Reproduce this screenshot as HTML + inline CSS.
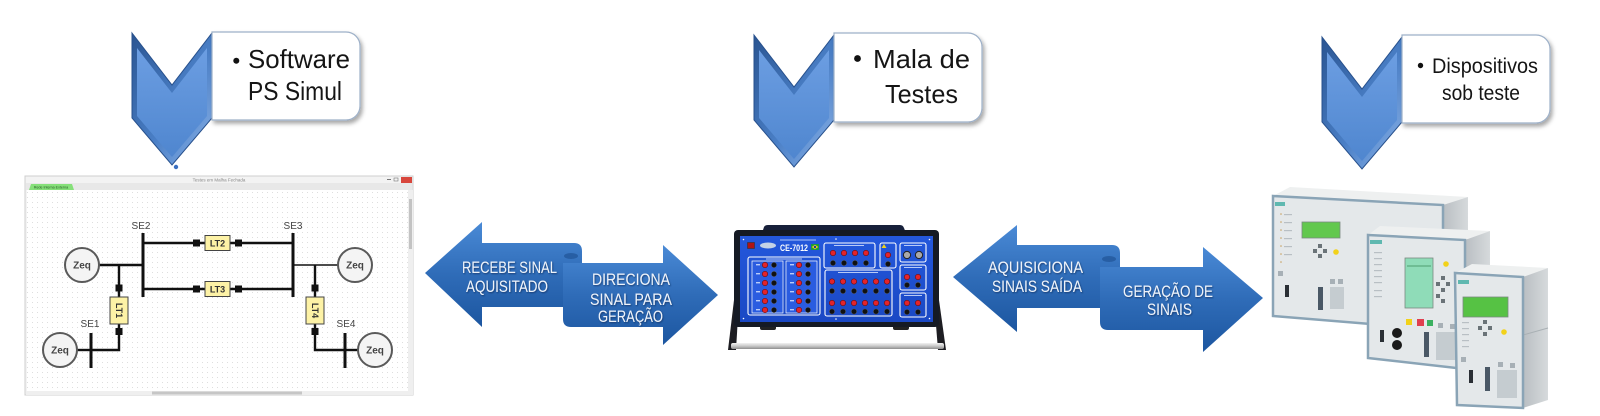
<!DOCTYPE html>
<html><head><meta charset="utf-8">
<style>
html,body{margin:0;padding:0;background:#fff;width:1600px;height:416px;overflow:hidden;}
svg{display:block;}
text{font-family:"Liberation Sans",sans-serif;}
</style></head><body>
<svg width="1600" height="416" viewBox="0 0 1600 416" xmlns="http://www.w3.org/2000/svg">
<defs>
 <linearGradient id="chevOut" x1="0" y1="0" x2="1" y2="1">
  <stop offset="0" stop-color="#2a5592"/>
  <stop offset="0.55" stop-color="#4a7fc6"/>
  <stop offset="1" stop-color="#8fb6ea"/>
 </linearGradient>
 <linearGradient id="chevIn" x1="0" y1="0" x2="0" y2="1">
  <stop offset="0" stop-color="#6c9ee2"/>
  <stop offset="1" stop-color="#4f86cf"/>
 </linearGradient>
 <linearGradient id="arr" x1="0" y1="0" x2="0" y2="1">
  <stop offset="0" stop-color="#4a8ad6"/>
  <stop offset="0.5" stop-color="#2f6cb8"/>
  <stop offset="1" stop-color="#1c56a0"/>
 </linearGradient>
 <linearGradient id="bar" x1="0" y1="0" x2="0" y2="1">
  <stop offset="0" stop-color="#f2f2f2"/>
  <stop offset="0.5" stop-color="#c9c9c9"/>
  <stop offset="1" stop-color="#8e8e8e"/>
 </linearGradient>
 <linearGradient id="panel" x1="0" y1="0" x2="0" y2="1">
  <stop offset="0" stop-color="#2458dc"/>
  <stop offset="1" stop-color="#1a48c4"/>
 </linearGradient>
 <linearGradient id="side" x1="0" y1="0" x2="1" y2="0">
  <stop offset="0" stop-color="#b9bec2"/>
  <stop offset="1" stop-color="#d6dadc"/>
 </linearGradient>
 <filter id="sh" x="-10%" y="-10%" width="130%" height="140%">
  <feDropShadow dx="2" dy="3" stdDeviation="2" flood-color="#000" flood-opacity="0.35"/>
 </filter>
 <filter id="tsh" x="-10%" y="-30%" width="130%" height="160%">
  <feDropShadow dx="0.8" dy="1" stdDeviation="0.8" flood-color="#0b2a55" flood-opacity="0.7"/>
 </filter>
 <pattern id="dots" width="5" height="5" patternUnits="userSpaceOnUse">
  <rect x="2" y="2" width="1" height="1" fill="#dedede"/>
 </pattern>
 <g id="chev">
  <polygon points="0,0 40,52 80,0 80,85 40,132 0,85" fill="url(#chevOut)" stroke="#27508c" stroke-width="1"/>
  <polygon points="5,15 40,60 75,15 75,83 40,124 5,83" fill="url(#chevIn)"/>
 </g>
</defs>

<!-- ================= Top chevrons + boxes ================= -->
<use href="#chev" x="132" y="33"/>
<path d="M212,32 H346 A14,14 0 0 1 360,46 V106 A14,14 0 0 1 346,120 H212 Z" fill="#fff" stroke="#9db0c8" stroke-width="1.2" filter="url(#sh)"/>
<circle cx="236.3" cy="60.8" r="3" fill="#111"/>
<text x="248" y="68" font-size="26" fill="#151515" textLength="102" lengthAdjust="spacingAndGlyphs">Software</text>
<text x="248" y="100" font-size="26" fill="#151515" textLength="94" lengthAdjust="spacingAndGlyphs">PS Simul</text>

<use href="#chev" x="754" y="35"/>
<path d="M834,33 H968 A14,14 0 0 1 982,47 V108 A14,14 0 0 1 968,122 H834 Z" fill="#fff" stroke="#9db0c8" stroke-width="1.2" filter="url(#sh)"/>
<circle cx="857.5" cy="58.5" r="3.4" fill="#111"/>
<text x="873" y="68" font-size="26" fill="#151515" textLength="97" lengthAdjust="spacingAndGlyphs">Mala de</text>
<text x="885" y="103" font-size="26" fill="#151515" textLength="73" lengthAdjust="spacingAndGlyphs">Testes</text>

<use href="#chev" x="1322" y="37"/>
<path d="M1402,35 H1536 A14,14 0 0 1 1550,49 V109 A14,14 0 0 1 1536,123 H1402 Z" fill="#fff" stroke="#9db0c8" stroke-width="1.2" filter="url(#sh)"/>
<circle cx="1420.5" cy="65.5" r="2.7" fill="#111"/>
<text x="1432" y="73" font-size="21" fill="#151515" textLength="106" lengthAdjust="spacingAndGlyphs">Dispositivos</text>
<text x="1442" y="100" font-size="21" fill="#151515" textLength="78" lengthAdjust="spacingAndGlyphs">sob teste</text>

<!-- ================= Software window ================= -->
<circle cx="176" cy="167" r="2.2" fill="#3a6fc0"/>
<rect x="25" y="176" width="388" height="219" fill="#f3f3f3" stroke="#cfcfcf"/>
<text x="219" y="181.5" font-size="4.5" fill="#888" text-anchor="middle">Testes em Malha Fechada</text>
<rect x="387" y="179" width="4" height="1" fill="#777"/>
<rect x="394" y="178" width="4" height="3" fill="none" stroke="#777" stroke-width="0.6"/>
<rect x="401" y="177" width="11" height="6" fill="#d8463c"/>
<rect x="26" y="183" width="386" height="7" fill="#e8e8e8"/>
<path d="M29,190 L31,184 H72 L74,190 Z" fill="#86e07a"/>
<text x="51" y="188.7" font-size="3.6" fill="#225522" text-anchor="middle">Rede Interna Externa</text>
<rect x="27" y="190" width="381" height="201" fill="#fff"/>
<rect x="27" y="190" width="381" height="201" fill="url(#dots)"/>
<rect x="408" y="190" width="5" height="201" fill="#efefef"/>
<rect x="409" y="199" width="3" height="50" fill="#c3c3c3"/>
<rect x="26" y="391" width="387" height="4" fill="#efefef"/>
<rect x="152" y="391.5" width="150" height="3" fill="#c6c6c6"/>

<g stroke="#111" fill="none">
 <line x1="143" y1="233" x2="143" y2="297" stroke-width="3"/>
 <line x1="293" y1="233" x2="293" y2="297" stroke-width="3"/>
 <line x1="143" y1="243" x2="293" y2="243" stroke-width="2.4"/>
 <line x1="143" y1="289" x2="293" y2="289" stroke-width="2.4"/>
 <line x1="99" y1="265" x2="143" y2="265" stroke-width="2.4"/>
 <polyline points="119,265 119,350 91,350" stroke-width="2.4"/>
 <line x1="91" y1="333" x2="91" y2="368" stroke-width="3"/>
 <line x1="77" y1="350" x2="91" y2="350" stroke-width="2.4"/>
 <line x1="293" y1="265" x2="338" y2="265" stroke-width="1.5"/>
 <polyline points="315,265 315,350 345,350" stroke-width="2.4"/>
 <line x1="345" y1="333" x2="345" y2="368" stroke-width="3"/>
 <line x1="345" y1="350" x2="358" y2="350" stroke-width="2.4"/>
</g>
<g fill="#111">
 <rect x="193" y="239.5" width="7" height="7"/><rect x="235" y="239.5" width="7" height="7"/>
 <rect x="193" y="285.5" width="7" height="7"/><rect x="235" y="285.5" width="7" height="7"/>
 <rect x="115.5" y="284.5" width="7" height="7"/><rect x="115.5" y="328" width="7" height="7"/>
 <rect x="311.5" y="284.5" width="7" height="7"/><rect x="311.5" y="328" width="7" height="7"/>
</g>
<g fill="#fdf2a6" stroke="#444" stroke-width="1">
 <rect x="205" y="235.5" width="25" height="15"/>
 <rect x="205" y="281.5" width="25" height="15"/>
 <rect x="110" y="297" width="18" height="27"/>
 <rect x="306" y="297" width="18" height="27"/>
</g>
<g font-size="9" font-weight="bold" fill="#333" text-anchor="middle">
 <text x="217.5" y="246.5">LT2</text>
 <text x="217.5" y="292.5">LT3</text>
 <text transform="translate(116,310.5) rotate(90)" y="0">LT1</text>
 <text transform="translate(312,310.5) rotate(90)" y="0">LT4</text>
</g>
<g fill="#f4f4f4" stroke="#5a5a5a" stroke-width="2">
 <circle cx="82" cy="265" r="17"/>
 <circle cx="60" cy="350" r="17"/>
 <circle cx="355" cy="265" r="17"/>
 <circle cx="375" cy="350" r="17"/>
</g>
<g font-size="10" font-weight="bold" fill="#444" text-anchor="middle">
 <text x="82" y="268.5">Zeq</text>
 <text x="60" y="353.5">Zeq</text>
 <text x="355" y="268.5">Zeq</text>
 <text x="375" y="353.5">Zeq</text>
</g>
<g font-size="10" fill="#444" text-anchor="middle">
 <text x="141" y="229">SE2</text>
 <text x="293" y="229">SE3</text>
 <text x="90" y="327">SE1</text>
 <text x="346" y="327">SE4</text>
</g>

<!-- ================= Left double arrow ================= -->
<path d="M425,273 L482,222 L482,243 L574,243 Q582,243 582,251 L582,307 L482,307 L482,327 Z" fill="url(#arr)"/>
<path d="M718,295 L663,245 L663,263 L563,263 L563,319 Q563,327 571,327 L663,327 L663,345 Z" fill="url(#arr)"/>
<ellipse cx="571" cy="256" rx="7" ry="3" fill="#1d4f8f" opacity="0.6"/>
<g font-size="17" fill="#eef3fa" filter="url(#tsh)">
 <text x="462" y="273" textLength="95" lengthAdjust="spacingAndGlyphs">RECEBE SINAL</text>
 <text x="466" y="292" textLength="82" lengthAdjust="spacingAndGlyphs">AQUISITADO</text>
 <text x="592" y="285" textLength="78" lengthAdjust="spacingAndGlyphs">DIRECIONA</text>
 <text x="590" y="305" textLength="82" lengthAdjust="spacingAndGlyphs">SINAL PARA</text>
 <text x="598" y="322" textLength="65" lengthAdjust="spacingAndGlyphs">GERAÇÃO</text>
</g>

<!-- ================= Right double arrow ================= -->
<path d="M953,277 L1017,225 L1017,245 L1112,245 Q1120,245 1120,253 L1120,308 L1017,308 L1017,332 Z" fill="url(#arr)"/>
<path d="M1263,298 L1203,247 L1203,267 L1100,267 L1100,322 Q1100,330 1108,330 L1203,330 L1203,352 Z" fill="url(#arr)"/>
<ellipse cx="1109" cy="259" rx="7" ry="3" fill="#1d4f8f" opacity="0.6"/>
<g font-size="17" fill="#eef3fa" filter="url(#tsh)">
 <text x="988" y="273" textLength="95" lengthAdjust="spacingAndGlyphs">AQUISICIONA</text>
 <text x="992" y="292" textLength="90" lengthAdjust="spacingAndGlyphs">SINAIS SAÍDA</text>
 <text x="1123" y="297" textLength="90" lengthAdjust="spacingAndGlyphs">GERAÇÃO DE</text>
 <text x="1147" y="315" textLength="45" lengthAdjust="spacingAndGlyphs">SINAIS</text>
</g>

<!-- ================= Test set ================= -->
<path d="M762,233 L764,227 Q765,225 768,225 L900,225 Q903,225 904,228 L906,233 Z" fill="#17203a"/>
<polygon points="734,300 739,300 736,350 728,350" fill="#1d1d22"/>
<polygon points="934,300 939,300 946,350 938,350" fill="#1d1d22"/>
<rect x="760" y="325" width="16" height="5" rx="2" fill="#222"/>
<rect x="893" y="325" width="16" height="5" rx="2" fill="#222"/>
<rect x="734" y="230" width="205" height="97" rx="4" fill="#151a24"/>
<rect x="740" y="236" width="193" height="86" fill="url(#panel)"/>
<rect x="731" y="343" width="213" height="6" rx="2" fill="url(#bar)"/>
<g fill="#fff">
 <circle cx="743.5" cy="239.5" r="0.8"/><circle cx="929.5" cy="239.5" r="0.8"/>
 <circle cx="743.5" cy="318.5" r="0.8"/><circle cx="929.5" cy="318.5" r="0.8"/>
 <circle cx="836" cy="319" r="0.8"/><circle cx="836" cy="239" r="0.8"/>
</g>
<rect x="747.5" y="242.5" width="7" height="6" fill="#b01414" stroke="#333" stroke-width="0.6"/>
<ellipse cx="768" cy="245.5" rx="8" ry="3" fill="#c4d2e6"/>
<rect x="780" y="239.5" width="36" height="1" fill="#cfe0ff" opacity="0.8"/>
<text x="780" y="251" font-size="9" font-weight="bold" fill="#fff" textLength="28" lengthAdjust="spacingAndGlyphs">CE-7012</text>
<rect x="811" y="244" width="8" height="6" fill="#1a9a3a"/>
<polygon points="815,244.8 818.3,247 815,249.2 811.7,247" fill="#f2d21a"/>
<circle cx="815" cy="247" r="1.2" fill="#1a3a9a"/>

<g fill="none" stroke="#fff" stroke-width="1.1">
 <rect x="748" y="257" width="72" height="58" rx="2"/>
 <rect x="824" y="243" width="51" height="25" rx="2"/>
 <rect x="880" y="243" width="16" height="25" rx="2"/>
 <rect x="825" y="270" width="67" height="46" rx="2"/>
 <rect x="900" y="243" width="26" height="19" rx="2"/>
 <rect x="900" y="265" width="26" height="25" rx="2"/>
 <rect x="900" y="293" width="26" height="24" rx="2"/>
</g>
<g fill="#2a5ce0" stroke="#fff" stroke-width="0.7">
 <rect x="752" y="261" width="31" height="52"/>
 <rect x="786" y="261" width="31" height="52"/>
</g>
<g fill="#dfe8ff" opacity="0.8">
 <rect x="766" y="258.5" width="36" height="1"/>
 <rect x="834" y="245" width="30" height="1"/>
 <rect x="838" y="272" width="40" height="1"/>
 <rect x="904" y="245" width="18" height="1"/>
 <rect x="904" y="267" width="18" height="1"/>
 <rect x="904" y="295" width="18" height="1"/>
 <rect x="756" y="264" width="4" height="1.4"/><rect x="756" y="273" width="4" height="1.4"/>
 <rect x="756" y="282" width="4" height="1.4"/><rect x="756" y="291" width="4" height="1.4"/>
 <rect x="756" y="300" width="4" height="1.4"/><rect x="756" y="309" width="4" height="1.4"/>
 <rect x="790" y="264" width="4" height="1.4"/><rect x="790" y="273" width="4" height="1.4"/>
 <rect x="790" y="282" width="4" height="1.4"/><rect x="790" y="291" width="4" height="1.4"/>
 <rect x="790" y="300" width="4" height="1.4"/><rect x="790" y="309" width="4" height="1.4"/>
</g>
<!-- red terminals -->
<g fill="#e3242b" stroke="#6a0a0a" stroke-width="0.6">
 <circle cx="765" cy="265" r="2.7"/><circle cx="765" cy="274" r="2.7"/><circle cx="765" cy="283" r="2.7"/>
 <circle cx="765" cy="292" r="2.7"/><circle cx="765" cy="301" r="2.7"/><circle cx="765" cy="310" r="2.7"/>
 <circle cx="799" cy="265" r="2.7"/><circle cx="799" cy="274" r="2.7"/><circle cx="799" cy="283" r="2.7"/>
 <circle cx="799" cy="292" r="2.7"/><circle cx="799" cy="301" r="2.7"/><circle cx="799" cy="310" r="2.7"/>
 <circle cx="833" cy="253" r="2.7"/><circle cx="844" cy="253" r="2.7"/><circle cx="855" cy="253" r="2.7"/><circle cx="866" cy="253" r="2.7"/>
 <circle cx="888" cy="255" r="2.7"/>
 <circle cx="832" cy="281.5" r="2.7"/><circle cx="843" cy="281.5" r="2.7"/><circle cx="854" cy="281.5" r="2.7"/>
 <circle cx="865" cy="281.5" r="2.7"/><circle cx="876" cy="281.5" r="2.7"/><circle cx="887" cy="281.5" r="2.7"/>
 <circle cx="832" cy="303" r="2.7"/><circle cx="843" cy="303" r="2.7"/><circle cx="854" cy="303" r="2.7"/>
 <circle cx="865" cy="303" r="2.7"/><circle cx="876" cy="303" r="2.7"/><circle cx="887" cy="303" r="2.7"/>
 <circle cx="907" cy="277" r="2.7"/><circle cx="918" cy="277" r="2.7"/>
 <circle cx="907" cy="303" r="2.7"/><circle cx="918" cy="303" r="2.7"/>
</g>
<!-- black terminals -->
<g fill="#111" stroke="#555" stroke-width="0.5">
 <circle cx="774" cy="265" r="2.6"/><circle cx="774" cy="274" r="2.6"/><circle cx="774" cy="283" r="2.6"/>
 <circle cx="774" cy="292" r="2.6"/><circle cx="774" cy="301" r="2.6"/><circle cx="774" cy="310" r="2.6"/>
 <circle cx="808" cy="265" r="2.6"/><circle cx="808" cy="274" r="2.6"/><circle cx="808" cy="283" r="2.6"/>
 <circle cx="808" cy="292" r="2.6"/><circle cx="808" cy="301" r="2.6"/><circle cx="808" cy="310" r="2.6"/>
 <circle cx="833" cy="263" r="2.6"/><circle cx="844" cy="263" r="2.6"/><circle cx="855" cy="263" r="2.6"/><circle cx="866" cy="263" r="2.6"/>
 <circle cx="888" cy="264" r="2.6"/>
 <circle cx="832" cy="291" r="2.6"/><circle cx="843" cy="291" r="2.6"/><circle cx="854" cy="291" r="2.6"/>
 <circle cx="865" cy="291" r="2.6"/><circle cx="876" cy="291" r="2.6"/><circle cx="887" cy="291" r="2.6"/>
 <circle cx="832" cy="311.5" r="2.6"/><circle cx="843" cy="311.5" r="2.6"/><circle cx="854" cy="311.5" r="2.6"/>
 <circle cx="865" cy="311.5" r="2.6"/><circle cx="876" cy="311.5" r="2.6"/><circle cx="887" cy="311.5" r="2.6"/>
 <circle cx="907" cy="285" r="2.6"/><circle cx="918" cy="285" r="2.6"/>
 <circle cx="907" cy="312" r="2.6"/><circle cx="918" cy="312" r="2.6"/>
</g>
<circle cx="907" cy="255" r="3.6" fill="#a9a9a9" stroke="#222" stroke-width="1"/>
<circle cx="919" cy="255" r="3.6" fill="#a9a9a9" stroke="#222" stroke-width="1"/>
<polygon points="884,244 886.5,248 881.5,248" fill="#f2d21a"/>

<!-- ================= Relays ================= -->
<!-- relay 1 -->
<polygon points="1273,196 1290,187 1468,197 1443,205" fill="#eef0f0"/>
<polygon points="1443,205 1468,197 1468,322 1443,330" fill="url(#side)"/>
<polygon points="1273,196 1443,205 1443,330 1273,316" fill="#e4e8ea" stroke="#8aa4b6" stroke-width="2.5"/>
<rect x="1275" y="202" width="10" height="4" fill="#5fb8b0"/>
<rect x="1302" y="222" width="38" height="16" fill="#62c84e" stroke="#7a8a80" stroke-width="0.8"/>
<g fill="#c7a060"><circle cx="1281" cy="214" r="0.8"/><circle cx="1281" cy="222" r="0.8"/><circle cx="1281" cy="230" r="0.8"/><circle cx="1281" cy="238" r="0.8"/><circle cx="1281" cy="246" r="0.8"/><circle cx="1281" cy="254" r="0.8"/><circle cx="1281" cy="262" r="0.8"/></g>
<g fill="#b8bfc4"><rect x="1284" y="214" width="8" height="1.2"/><rect x="1284" y="222" width="8" height="1.2"/><rect x="1284" y="230" width="8" height="1.2"/><rect x="1284" y="238" width="8" height="1.2"/><rect x="1284" y="246" width="8" height="1.2"/><rect x="1284" y="254" width="8" height="1.2"/></g>
<g fill="#6a7378">
 <rect x="1318" y="244" width="4" height="4"/><rect x="1313" y="249" width="4" height="4"/>
 <rect x="1323" y="249" width="4" height="4"/><rect x="1318" y="254" width="4" height="4"/>
</g>
<circle cx="1336" cy="252" r="2.8" fill="#f2d21a"/>
<rect x="1278" y="271" width="5" height="5" fill="#a7b0b6"/>
<rect x="1330" y="279" width="5" height="5" fill="#a7b0b6"/><rect x="1338" y="279" width="5" height="5" fill="#a7b0b6"/>
<rect x="1330" y="287" width="14" height="22" fill="#c5ccd0"/>
<rect x="1318" y="287" width="5" height="23" fill="#4a5866"/>
<rect x="1285" y="285" width="4" height="12" fill="#2a2f35"/>

<!-- relay 2 -->
<polygon points="1368,235 1380,226 1490,231 1465,240" fill="#eef0f0"/>
<polygon points="1465,240 1490,231 1490,360 1465,369" fill="url(#side)"/>
<polygon points="1368,235 1465,240 1465,369 1368,358" fill="#e4e8ea" stroke="#8aa4b6" stroke-width="2.5"/>
<rect x="1370" y="240" width="12" height="4" fill="#5fb8b0"/>
<rect x="1405" y="258" width="28" height="50" fill="#8fdcb8" stroke="#7a8a80" stroke-width="0.8"/>
<line x1="1407" y1="266" x2="1431" y2="266" stroke="#3a8a5a" stroke-width="0.8"/>
<g fill="#b8bfc4"><rect x="1374" y="252" width="8" height="1.2"/><rect x="1374" y="258" width="8" height="1.2"/><rect x="1374" y="264" width="8" height="1.2"/><rect x="1374" y="270" width="8" height="1.2"/><rect x="1374" y="276" width="8" height="1.2"/><rect x="1374" y="282" width="8" height="1.2"/><rect x="1374" y="290" width="8" height="1.2"/><rect x="1374" y="296" width="8" height="1.2"/></g>
<circle cx="1446" cy="264" r="2.8" fill="#f2d21a"/>
<g fill="#6a7378">
 <rect x="1441" y="276" width="4" height="4"/><rect x="1436" y="282" width="4" height="4"/>
 <rect x="1446" y="282" width="4" height="4"/><rect x="1441" y="288" width="4" height="4"/>
 <rect x="1436" y="294" width="4" height="4"/><rect x="1441" y="299" width="4" height="4"/>
</g>
<rect x="1406" y="319" width="6" height="6" fill="#f2d21a"/>
<rect x="1417" y="319" width="7" height="7" fill="#e04050"/>
<rect x="1427" y="320" width="6" height="6" fill="#3ab060"/>
<rect x="1438" y="323" width="5" height="5" fill="#a7b0b6"/><rect x="1450" y="324" width="5" height="5" fill="#a7b0b6"/>
<circle cx="1397" cy="333" r="5" fill="#1a1a1a"/>
<circle cx="1397" cy="345" r="5" fill="#1a1a1a"/>
<rect x="1380" y="330" width="4" height="12" fill="#2a2f35"/>
<rect x="1424" y="332" width="5" height="25" fill="#4a5866"/>
<rect x="1436" y="332" width="20" height="28" fill="#c5ccd0"/>

<!-- relay 3 -->
<polygon points="1455,273 1472,264 1548,268 1523,277" fill="#eef0f0"/>
<polygon points="1523,277 1548,268 1548,400 1523,408" fill="url(#side)"/>
<line x1="1523" y1="335" x2="1548" y2="328" stroke="#a9b0b4" stroke-width="1"/>
<polygon points="1455,273 1523,277 1523,408 1457,405" fill="#e4e8ea" stroke="#8aa4b6" stroke-width="2.5"/>
<rect x="1458" y="280" width="11" height="4" fill="#5fb8b0"/>
<rect x="1463" y="297" width="45" height="20" fill="#56c244" stroke="#7a8a80" stroke-width="0.8"/>
<g fill="#b8bfc4"><rect x="1462" y="322" width="7" height="1.2"/><rect x="1462" y="328" width="7" height="1.2"/><rect x="1462" y="334" width="7" height="1.2"/><rect x="1462" y="340" width="7" height="1.2"/><rect x="1462" y="346" width="7" height="1.2"/></g>
<g fill="#6a7378">
 <rect x="1483" y="320" width="4" height="4"/><rect x="1478" y="326" width="4" height="4"/>
 <rect x="1488" y="326" width="4" height="4"/><rect x="1483" y="332" width="4" height="4"/>
</g>
<circle cx="1504" cy="332" r="2.8" fill="#f2d21a"/>
<rect x="1461" y="357" width="5" height="5" fill="#a7b0b6"/>
<rect x="1498" y="362" width="5" height="5" fill="#a7b0b6"/><rect x="1510" y="363" width="5" height="5" fill="#a7b0b6"/>
<rect x="1497" y="370" width="20" height="28" fill="#c5ccd0"/>
<rect x="1485" y="367" width="5" height="24" fill="#4a5866"/>
<rect x="1469" y="370" width="4" height="13" fill="#2a2f35"/>
</svg>
</body></html>
